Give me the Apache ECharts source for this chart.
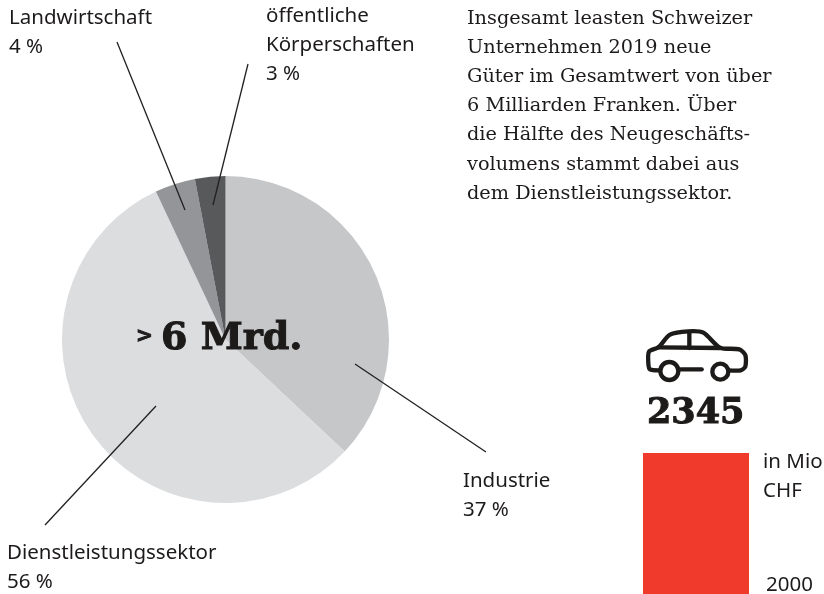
<!DOCTYPE html>
<html>
<head>
<meta charset="utf-8">
<script src="https://cdn.jsdelivr.net/npm/echarts@6/dist/echarts.min.js"></script>
<style>
html, body { margin: 0; padding: 0; background: #fff; }
#chart1 { width: 824px; height: 594px; }
</style>
</head>
<body>
<div id="chart1"></div>
<script>
var sectors = ['Industrie', 'Dienstleistungssektor', 'Landwirtschaft', 'öffentliche\nKörperschaften'];
var shares = [37, 56, 4, 3];
var sectorColors = ['#c6c7c9', '#dcdddf', '#939598', '#58595b'];

var barYears = ['2000'];
var barValues = [2345];

var introText = [
    'Insgesamt leasten Schweizer',
    'Unternehmen 2019 neue',
    'Güter im Gesamtwert von über',
    '6 Milliarden Franken. Über',
    'die Hälfte des Neugeschäfts-',
    'volumens stammt dabei aus',
    'dem Dienstleistungssektor.'
];

var SANS = '"Noto Sans", sans-serif';
var SERIF = '"DejaVu Serif", serif';
var INK = '#1d1a1a';
var TOP = 10;

function sansText(x, y, str) {
    return {
        type: 'text', x: x, y: y, z: TOP, silent: true,
        style: { text: str, fill: INK, font: '20.5px ' + SANS, lineHeight: 29 }
    };
}

function boldText(x, y, size, str) {
    return {
        type: 'text', x: x, y: y, z: TOP, silent: true,
        style: { text: str, fill: INK, stroke: INK, lineWidth: 1, font: 'bold ' + size + 'px ' + SERIF }
    };
}

function leader(x1, y1, x2, y2) {
    return {
        type: 'line', z: TOP, silent: true,
        shape: { x1: x1, y1: y1, x2: x2, y2: y2 },
        style: { stroke: '#231f20', lineWidth: 1.3 }
    };
}

// Auto-Icon, Koordinaten in 3x
function carLine(points, smooth) {
    return {
        type: 'polyline', z: TOP, silent: true,
        shape: { points: points, smooth: smooth || 0 },
        style: { fill: null, stroke: INK, lineWidth: 13, lineCap: 'round', lineJoin: 'round' }
    };
}

function carWheel(cx, cy, r) {
    return {
        type: 'circle', z: TOP, silent: true,
        shape: { cx: cx, cy: cy, r: r },
        style: { fill: null, stroke: INK, lineWidth: 13 }
    };
}

var car = {
    type: 'group', x: 620, y: 310, scaleX: 1 / 3, scaleY: 1 / 3, silent: true,
    children: [
        carLine([[118, 181], [90, 178], [85, 160], [87, 125], [115, 112], [150, 74], [205, 64], [250, 68], [300, 113], [358, 118], [376, 135], [376, 170], [362, 181], [326, 181]], 0.25),
        carLine([[115, 112], [300, 114]]),
        carLine([[208, 66], [208, 114]]),
        carLine([[182, 178], [245, 178]]),
        carWheel(148, 183, 27),
        carWheel(301, 185, 24)
    ]
};

var graphics = [
    leader(355, 364, 486, 452),
    leader(156, 406, 45, 525),
    leader(117, 42, 185, 210),
    leader(248, 64, 213, 205),

    sansText(463, 466.5, sectors[0] + '\n' + shares[0] + ' %'),
    sansText(7, 538.5, sectors[1] + '\n' + shares[1] + ' %'),
    sansText(9, 3.5, sectors[2] + '\n' + shares[2] + ' %'),
    sansText(266, 1.5, sectors[3] + '\n' + shares[3] + ' %'),

    sansText(763, 448, 'in Mio\nCHF'),
    sansText(766, 570.5, barYears[0]),

    {
        type: 'text', x: 467, y: 4, z: TOP, silent: true,
        style: { text: introText.join('\n'), fill: INK, font: '19.3px ' + SERIF, lineHeight: 29.2 }
    },
    boldText(136, 327, 20, '>'),
    boldText(161, 320, 38, '6 Mrd.'),
    boldText(647, 396, 35, String(barValues[0])),
    car
];

var chart = echarts.init(document.getElementById('chart1'), null, { renderer: 'canvas' });

chart.setOption({
    animation: false,
    backgroundColor: '#ffffff',
    grid: { left: 643, top: 453, width: 106, height: 141 },
    xAxis: { type: 'category', data: barYears, show: false },
    yAxis: { type: 'value', min: 0, max: 2345, show: false },
    series: [{
        type: 'pie',
        center: [225.5, 339.5],
        radius: [0, 163.5],
        startAngle: 90,
        clockwise: true,
        silent: true,
        label: { show: false },
        labelLine: { show: false },
        itemStyle: { borderWidth: 0 },
        data: sectors.map(function (name, i) {
            return { name: name, value: shares[i], itemStyle: { color: sectorColors[i] } };
        })
    }, {
        type: 'bar',
        barWidth: '100%',
        silent: true,
        itemStyle: { color: '#f03a2b' },
        data: barValues
    }],
    graphic: graphics
});
</script>
</body>
</html>
